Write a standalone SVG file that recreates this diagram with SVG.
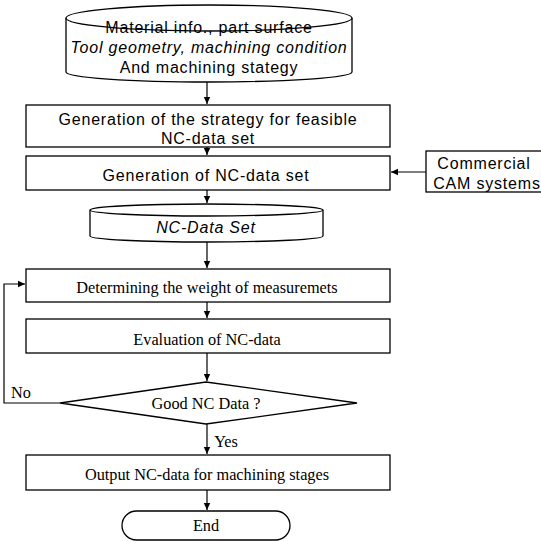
<svg xmlns="http://www.w3.org/2000/svg" width="541" height="541" viewBox="0 0 541 541">
<defs>
<marker id="ah" markerWidth="8" markerHeight="8" refX="7" refY="4" orient="auto" markerUnits="userSpaceOnUse">
<path d="M0,0.8 L7,4 L0,7.2 Z" fill="#000"/>
</marker>
<style>
.s{fill:#fff;stroke:#000;stroke-width:1.3}
.c{fill:none;stroke:#000;stroke-width:1.2}
.sans{font-family:"Liberation Sans",Arial,sans-serif;font-size:16px;letter-spacing:0.8px;fill:#000;text-anchor:middle}
.serif{font-family:"Liberation Serif","Times New Roman",serif;font-size:16.3px;fill:#000;text-anchor:middle}
.it{font-style:italic}
</style>
</defs>
<rect width="541" height="541" fill="#fff"/>
<g id="connectors">
<line class="c" x1="207" y1="82" x2="207" y2="104" marker-end="url(#ah)"/>
<line class="c" x1="207" y1="147" x2="207" y2="155" marker-end="url(#ah)"/>
<line class="c" x1="426" y1="172" x2="391" y2="172" marker-end="url(#ah)"/>
<line class="c" x1="207" y1="190" x2="207" y2="203" marker-end="url(#ah)"/>
<line class="c" x1="207" y1="242" x2="207" y2="268" marker-end="url(#ah)"/>
<line class="c" x1="207" y1="302" x2="207" y2="318" marker-end="url(#ah)"/>
<line class="c" x1="207" y1="353" x2="207" y2="381" marker-end="url(#ah)"/>
<polyline class="c" points="60,403 4,403 4,284 25,284" marker-end="url(#ah)"/>
<line class="c" x1="207" y1="424" x2="207" y2="454" marker-end="url(#ah)"/>
<line class="c" x1="207" y1="490" x2="207" y2="510" marker-end="url(#ah)"/>
<text class="serif" x="21" y="398">No</text>
<text class="serif" x="226" y="447">Yes</text>
</g>
<g id="input">
<path class="s" d="M66,18 V72 A143,10 0 0 0 352,72 V18"/>
<ellipse class="s" cx="209" cy="18" rx="143" ry="13"/>
<text class="sans" x="209" y="33">Material info., part surface</text>
<text class="sans it" x="209" y="53">Tool geometry, machining condition</text>
<text class="sans" x="209" y="73">And machining stategy</text>
</g>
<g id="strategy">
<rect class="s" x="26" y="105" width="364" height="42"/>
<text class="sans" x="208" y="125">Generation of the strategy for feasible</text>
<text class="sans" x="208" y="144">NC-data set</text>
</g>
<g id="generation">
<rect class="s" x="26" y="156" width="364" height="34"/>
<text class="sans" x="206" y="181">Generation of NC-data set</text>
</g>
<g id="cam">
<rect class="s" x="426" y="151" width="125" height="41"/>
<text class="sans" x="484" y="169">Commercial</text>
<text class="sans" x="487" y="189">CAM systems</text>
</g>
<g id="ncdataset">
<path class="s" d="M90,210 V236 A116.5,6 0 0 0 323,236 V210"/>
<ellipse class="s" cx="206.5" cy="210" rx="116.5" ry="6"/>
<text class="sans it" x="206" y="233">NC-Data Set</text>
</g>
<g id="weight">
<rect class="s" x="26" y="269" width="364" height="33"/>
<text class="serif" x="207" y="293">Determining the weight of measuremets</text>
</g>
<g id="evaluation">
<rect class="s" x="26" y="319" width="364" height="34"/>
<text class="serif" x="207" y="345">Evaluation of NC-data</text>
</g>
<g id="decision">
<polygon class="s" points="206,382 357,403 206,424 60,403"/>
<text class="serif" x="206" y="409">Good NC Data ?</text>
</g>
<g id="output">
<rect class="s" x="26" y="455" width="364" height="35"/>
<text class="serif" x="207" y="480">Output NC-data for machining stages</text>
</g>
<g id="end">
<rect class="s" x="122" y="511" width="168" height="29" rx="14.5"/>
<text class="serif" x="206" y="531">End</text>
</g>
</svg>
